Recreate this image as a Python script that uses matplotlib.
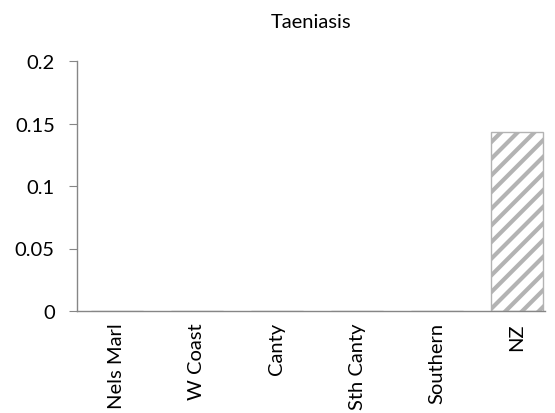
import matplotlib
matplotlib.use('Agg')
import matplotlib.pyplot as plt

# Data
regions = ['Nels Marl', 'W Coast', 'Canty', 'Sth Canty', 'Southern', 'NZ']
rates = [0, 0, 0, 0, 0, 0.143]
yticks = [0, 0.05, 0.1, 0.15, 0.2]
ytick_labels = ['0', '0.05', '0.1', '0.15', '0.2']

plt.rcParams['font.family'] = ['Lato', 'DejaVu Sans']
plt.rcParams['hatch.linewidth'] = 3.0
plt.rcParams['hatch.color'] = '#b3b3b3'

fig = plt.figure(figsize=(5.55, 4.14), dpi=100)
# axes box in pixels: x 77..545, y 62..312 (from top)
ax = fig.add_axes([77/555, 1 - 312/414, 468/555, 250/414])

x = list(range(len(regions)))
ax.bar(x, rates, width=0.66, color='white', edgecolor='#b3b3b3',
       hatch='//', linewidth=1.0)

ax.set_xlim(-0.5, -0.5 + 468/80)
ax.set_ylim(0, 0.2)
ax.set_yticks(yticks)
ax.set_yticklabels(ytick_labels, fontsize=14.5)
ax.set_xticks(x)
ax.set_xticklabels(regions, rotation=90, fontsize=14.5)

for s in ['top', 'right']:
    ax.spines[s].set_visible(False)
for s in ['left', 'bottom']:
    ax.spines[s].set_color('#868686')
    ax.spines[s].set_linewidth(1.0)
ax.spines['bottom'].set_zorder(3)
ax.tick_params(axis='y', length=6, color='#868686', pad=10)
ax.tick_params(axis='x', length=0, pad=8)

fig.text(311/555, 1 - 22/414, 'Taeniasis', fontsize=14.5,
         ha='center', va='center')

fig.savefig('out.png', dpi=100)
